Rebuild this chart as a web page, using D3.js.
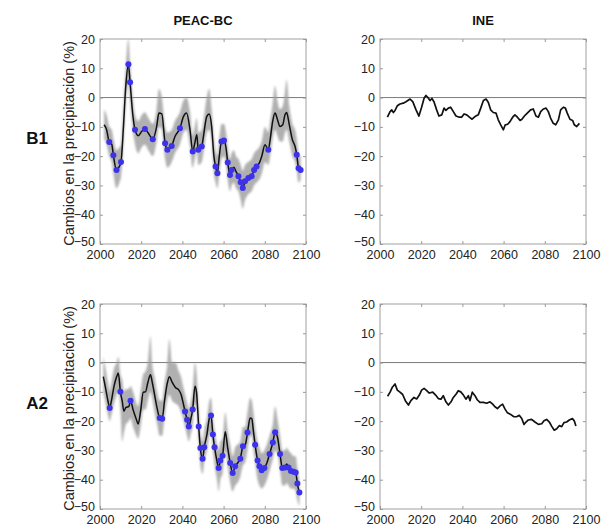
<!DOCTYPE html>
<html>
<head>
<meta charset="utf-8">
<script src="https://cdn.jsdelivr.net/npm/d3@7/dist/d3.min.js"></script>
<style>
  html, body { margin: 0; padding: 0; background: #fff; }
  svg { display: block; font-family: Arial, "Liberation Sans", Helvetica, sans-serif; }
</style>
</head>
<body>
<svg id="chart" width="603" height="529"></svg>
<script>
// Axis ranges and tick labels shared by all four panels
const xTicks = [2000, 2020, 2040, 2060, 2080, 2100];
const yTicks = [20, 10, 0, -10, -20, -30, -40, -50];
const columnTitles = ["PEAC-BC", "INE"];
const rowTitles = ["B1", "A2"];
const yAxisTitle = "Cambios en la precipitación (%)";

// B1 – PEAC-BC ensemble mean, its spread and significant years (1 = marked)
const b1PeacYears = [2002,2003.2,2004.5,2005.7,2006.5,2008,2009.4,2010.2,2011.3,2012.5,2013.8,2014.6,2015.9,2017,2018.6,2020.2,2021.8,2023.5,2025.6,2027.5,2028.6,2030,2031.6,2032.7,2034.8,2036.4,2038.8,2040.5,2042,2043.7,2045,2046,2047,2047.7,2049.4,2050.2,2051.8,2053,2054.2,2055.3,2056.1,2057,2057.9,2059,2060.2,2061.2,2062,2063.1,2063.9,2065,2066,2067.2,2068.3,2069.3,2070.4,2072,2073.6,2074.8,2076,2077.3,2078.5,2080.1,2081.7,2082.8,2083.8,2085,2086.1,2087.4,2088.7,2089.8,2090.6,2091.9,2093.4,2094.7,2095.5,2096.4,2097.4];
const b1PeacValues = [-9.3,-11,-15.2,-16,-19.7,-24.7,-23.5,-22,-11,3.8,11.4,5.2,-5.7,-11,-13,-11.6,-10.7,-12.2,-14.2,-9.9,-5.3,-5.6,-15.6,-17.8,-16.5,-13.3,-10.5,-6.5,-5.3,-11,-18.4,-15.6,-12.7,-17.8,-16.7,-13.3,-6.5,-5.6,-9.9,-20.1,-23.5,-25.8,-20.1,-15,-14.7,-17.3,-22.2,-26.4,-24.7,-23.8,-25.2,-26.9,-28.9,-30.9,-28.6,-27.5,-26.9,-24.7,-23.5,-22.4,-20.1,-16.1,-17.8,-13.3,-8.2,-5.3,-7.4,-9.9,-9.3,-5.9,-5.1,-9.3,-14.4,-16.7,-19.5,-24.1,-24.7];
const b1PeacLower = [-14,-16,-20,-22,-26,-31,-29,-27,-17,-2,5,-1,-11,-16,-19,-17,-16,-18,-20,-15,-10,-11,-21,-24,-22,-19,-16,-12,-11,-17,-24,-21,-18,-23,-22,-19,-12,-11,-15,-26,-29,-31,-26,-21,-20,-23,-28,-32,-30,-29,-31,-32,-35,-38,-35,-33,-32,-30,-29,-28,-26,-22,-23,-19,-14,-11,-13,-15,-15,-12,-11,-15,-20,-22,-25,-29,-28];
const b1PeacUpper = [-4,-6,-10,-11,-14,-18,-17,-16,-4,10,20,12,0,-6,-8,-6,-5,-7,-9,-4,3,0,-10,-12,-11,-8,-5,-1,0,-5,-13,-10,-7,-12,-11,-8,0,3,-4,-14,-18,-20,-14,-9,-9,-12,-17,-21,-19,-18,-20,-21,-23,-25,-23,-22,-21,-19,-18,-17,-15,-10,-12,-7,-2,4,-1,-4,-3,2,6,-3,-9,-11,-14,-19,-20];
const b1PeacSig = [0,0,1,0,1,1,0,1,0,0,1,1,0,1,0,0,1,0,1,0,0,0,1,1,1,0,1,0,0,0,1,0,0,1,1,0,0,0,0,0,1,1,0,1,1,0,1,1,1,0,0,1,1,1,1,1,1,1,1,0,0,0,1,0,0,0,0,0,0,0,0,0,0,0,1,1,1];

// B1 – INE series
const b1IneYears = [2003.6,2004.9,2005.7,2006.5,2007.3,2008.4,2009.7,2011.3,2012.6,2014.6,2015.9,2017.5,2018.9,2020.2,2021.4,2022.3,2023.5,2024.3,2025.2,2026.2,2027.5,2028.6,2030,2031.1,2032,2033.2,2034.3,2035.6,2036.9,2038.5,2039.6,2040.8,2042.1,2043.4,2044.7,2046.1,2047.7,2048.9,2050.2,2051.5,2052.6,2053.7,2055,2056.3,2057.4,2058.6,2059.9,2060.8,2062,2063.1,2064.4,2065.5,2066.7,2068,2068.9,2070.1,2071.5,2073.1,2074.4,2075.7,2076.9,2078,2079.3,2080.6,2081.7,2082.8,2084.1,2085.3,2086.6,2087.7,2089,2090,2090.9,2092.2,2093.5,2094.3,2095.5,2096.8];
const b1IneValues = [-6.7,-4.8,-4.2,-5.1,-4.4,-2.8,-2.2,-1.9,-1.4,-0.5,-1.4,-4.2,-6.3,-3.3,-0.2,0.7,-0.2,-1,-0.3,-1.4,-4.2,-6.3,-5.9,-3.6,-4.4,-3.6,-3.3,-4.8,-6.3,-6.7,-6.7,-5.6,-5.9,-6.7,-7.4,-6.5,-5.9,-3.6,-1,-0.5,-1.7,-4.2,-5.1,-5.3,-7.6,-9.3,-11,-9.3,-9.1,-8.2,-6.7,-5.9,-6.7,-7.8,-7.4,-6.3,-5.3,-4.2,-3.9,-6.3,-6.7,-4.8,-3.9,-3.6,-4.8,-7,-8.8,-9.3,-7.6,-4.2,-3.3,-3.6,-5.3,-7.4,-7.8,-9.3,-9.9,-8.8];

// A2 – PEAC-BC ensemble mean, its spread and significant years (1 = marked)
const a2PeacYears = [2001.6,2002.7,2003.9,2004.7,2005.5,2006.8,2008.1,2008.9,2009.9,2010.8,2011.6,2012.6,2014,2014.8,2016.1,2017.7,2018.5,2019.7,2021,2022.1,2023.2,2024.5,2025.3,2026.5,2027.7,2029,2030.2,2031.3,2032.6,2033.7,2035,2036.6,2038.2,2039.4,2040.3,2041.3,2042.3,2043.1,2044.2,2045,2046.1,2046.8,2047.9,2048.7,2049.8,2050.6,2051.9,2053.1,2053.9,2054.8,2055.6,2056.8,2057.6,2058.4,2059.5,2060.8,2061.9,2063.2,2064.4,2065.6,2066.8,2068.1,2069.4,2070.5,2071.6,2072.9,2073.7,2074.5,2075.3,2076.5,2077.4,2078.5,2079.8,2081,2082.3,2083.9,2085,2086.1,2087.4,2088.5,2089.8,2090.6,2091.5,2092.7,2093.9,2095,2095.8,2096.8];
const a2PeacValues = [-4.8,-8.7,-13.2,-15.5,-13.2,-8.1,-4.8,-3.6,-10,-13.2,-16.6,-15.3,-15,-13,-16.2,-19.5,-21,-16.6,-10.1,-10,-6.9,-4.2,-6.5,-11,-15.5,-18.9,-19.2,-13.2,-7.3,-4.8,-6.7,-8.5,-9.3,-11,-13.6,-16.7,-19.5,-21.8,-18.9,-16,-8.1,-9.8,-21.8,-29.2,-32.8,-28.9,-24.6,-18.9,-18.1,-24.6,-28.9,-33.7,-36,-33.4,-31.8,-23.6,-28.7,-34.3,-37.7,-35.4,-34.3,-32.8,-28.6,-28.1,-23.9,-18.9,-19.2,-23.6,-28.1,-33.4,-35.4,-36.8,-36,-34.3,-31.2,-27.3,-23.8,-25.3,-31.2,-36,-35.8,-34.6,-35.8,-37,-37.3,-37.5,-41.3,-44.4];
const a2PeacLower = [-10,-14,-18,-20,-18,-14,-11,-10,-16,-27,-24,-21,-20,-19,-22,-25,-26,-22,-16,-16,-13,-10,-12,-17,-21,-25,-25,-19,-13,-11,-13,-14,-15,-17,-19,-22,-25,-27,-24,-22,-14,-16,-27,-35,-38,-34,-30,-25,-24,-30,-35,-40,-44,-40,-38,-30,-35,-41,-44,-42,-41,-39,-35,-34,-30,-25,-25,-30,-34,-40,-42,-43,-42,-40,-37,-33,-30,-31,-37,-42,-42,-41,-42,-43,-43,-44,-47,-49];
const a2PeacUpper = [2,-2,-7,-10,-7,-2,0,2,-4,-6,-10,-9,-9,-8,-10,-14,-15,-10,-4,-3,0,9,0,-5,-10,-13,-13,-7,-1,8,0,0,-3,-5,-8,-11,-14,-16,-13,-10,0,-3,-16,-23,-27,-23,-19,-13,-12,-19,-23,-28,-30,-27,-26,-17,-23,-28,-32,-29,-28,-27,-22,-22,-17,-12,-13,-17,-22,-27,-29,-31,-30,-28,-25,-21,-15,-19,-25,-30,-30,-29,-30,-31,-32,-32,-36,-40];
const a2PeacSig = [0,0,0,1,0,0,0,0,1,0,0,0,0,1,0,0,0,0,0,0,0,0,0,0,0,1,1,0,0,0,0,0,0,0,0,1,1,1,0,1,0,0,1,1,1,1,0,0,1,1,1,0,1,1,1,0,0,1,1,1,0,1,1,0,1,0,0,0,1,1,1,1,1,0,1,1,1,0,1,1,1,0,1,1,1,1,1,1];

// A2 – INE series
const a2IneYears = [2003.7,2004.9,2006,2007.3,2008.4,2009.7,2011,2012.3,2013.8,2015,2016.5,2017.8,2019.1,2020.2,2021.4,2022.7,2023.9,2025.6,2027,2028.3,2029.6,2030.7,2032,2033.2,2034.5,2035.6,2036.9,2038,2039.2,2040.5,2041.7,2042.9,2043.7,2044.8,2046.1,2047.2,2048.5,2050.2,2051.8,2053.4,2054.7,2055.8,2057,2058.3,2059.5,2060.7,2061.8,2063.4,2065,2066.3,2067.6,2068.8,2069.9,2070.9,2072,2073.6,2075.2,2076.9,2078.5,2079.6,2080.9,2082.2,2083.3,2084.6,2085.8,2087.1,2088.2,2089.3,2090.6,2091.9,2093.4,2094.3,2095.1];
const a2IneValues = [-11.5,-10.1,-8.4,-7.3,-9.4,-10.1,-10.9,-13,-14.5,-13,-11.9,-12.4,-11.1,-9.4,-8.8,-9.6,-10.4,-10.1,-11.1,-12.3,-12.5,-11.3,-13.4,-14.5,-13.4,-11.9,-10.8,-9.6,-10,-11.1,-12.5,-11.3,-13,-10.1,-11.3,-12.7,-13.6,-13.6,-13.9,-13.4,-14.2,-15.1,-15.7,-14.8,-14.2,-15.9,-17.1,-17.7,-18.5,-18.5,-18,-19.1,-21.1,-20.3,-19.6,-19.4,-20.3,-21.1,-20.9,-19.9,-19.4,-20.3,-21.7,-23.1,-22.6,-21.5,-21.9,-20.5,-20.3,-19.6,-19.1,-19.9,-21.7];

const svg = d3.select("#chart");

const defs = svg.append("defs");
defs.append("filter").attr("id", "soft")
  .attr("x", "-10%").attr("y", "-10%").attr("width", "120%").attr("height", "120%")
  .append("feGaussianBlur").attr("stdDeviation", 1.3);
defs.append("filter").attr("id", "softDot")
  .append("feGaussianBlur").attr("stdDeviation", 0.5);

// Panel frames: [row][column]
const frames = [
  [{ x: 100, y: 39, w: 206, h: 205 }, { x: 380, y: 39, w: 206, h: 205 }],
  [{ x: 100, y: 304, w: 206, h: 205 }, { x: 380, y: 304, w: 206, h: 205 }]
];

const panels = [
  { row: 0, col: 0, kind: "peac", years: b1PeacYears, values: b1PeacValues, lower: b1PeacLower, upper: b1PeacUpper, sig: b1PeacSig },
  { row: 0, col: 1, kind: "ine", years: b1IneYears, values: b1IneValues },
  { row: 1, col: 0, kind: "peac", years: a2PeacYears, values: a2PeacValues, lower: a2PeacLower, upper: a2PeacUpper, sig: a2PeacSig },
  { row: 1, col: 1, kind: "ine", years: a2IneYears, values: a2IneValues }
];

panels.forEach((p, i) => {
  const f = frames[p.row][p.col];
  const g = svg.append("g").attr("transform", `translate(${f.x},${f.y})`);
  const x = d3.scaleLinear().domain([2000, 2100]).range([0, f.w]);
  const y = d3.scaleLinear().domain([-50, 20]).range([f.h, 0]);

  const clipId = "clip" + i;
  defs.append("clipPath").attr("id", clipId)
    .append("rect").attr("width", f.w).attr("height", f.h);
  const plot = g.append("g").attr("clip-path", `url(#${clipId})`);

  // zero reference line
  plot.append("line")
    .attr("x1", 0).attr("x2", f.w)
    .attr("y1", y(0)).attr("y2", y(0))
    .attr("stroke", "#7a7a7a").attr("stroke-width", 1);

  const pts = p.years.map((yr, k) => ({ yr, v: p.values[k], k }));

  if (p.kind === "peac") {
    const area = d3.area()
      .x(d => x(d.yr))
      .y0(d => y(p.lower[d.k]))
      .y1(d => y(p.upper[d.k]))
      .curve(d3.curveMonotoneX);
    plot.append("path").datum(pts)
      .attr("d", area)
      .attr("fill", "#9a9a9a")
      .attr("fill-opacity", 0.78)
      .attr("filter", "url(#soft)");

    plot.append("path").datum(pts)
      .attr("d", d3.line().x(d => x(d.yr)).y(d => y(d.v)).curve(d3.curveMonotoneX))
      .attr("fill", "none").attr("stroke", "#111").attr("stroke-width", 1.5);

    plot.selectAll("circle.sig").data(pts.filter(d => p.sig[d.k] === 1))
      .join("circle").attr("class", "sig")
      .attr("cx", d => x(d.yr)).attr("cy", d => y(d.v))
      .attr("r", 3)
      .attr("fill", "#3c32ec")
      .attr("filter", "url(#softDot)");
  } else {
    plot.append("path").datum(pts)
      .attr("d", d3.line().x(d => x(d.yr)).y(d => y(d.v)))
      .attr("fill", "none").attr("stroke", "#111").attr("stroke-width", 1.7)
      .attr("stroke-linejoin", "round");
  }

  // frame
  g.append("rect").attr("width", f.w).attr("height", f.h)
    .attr("fill", "none").attr("stroke", "#a0a0a0").attr("stroke-width", 1);

  // inward ticks on all four sides, labels on bottom and left
  const axB = g.append("g").attr("transform", `translate(0,${f.h})`)
    .call(d3.axisBottom(x).tickValues(xTicks).tickSize(-3).tickPadding(7).tickFormat(d3.format("d")));
  const axT = g.append("g")
    .call(d3.axisTop(x).tickValues(xTicks).tickSize(-3).tickFormat(""));
  const axL = g.append("g")
    .call(d3.axisLeft(y).tickValues(yTicks).tickSize(-3).tickPadding(5).tickFormat(d3.format("d")));
  const axR = g.append("g").attr("transform", `translate(${f.w},0)`)
    .call(d3.axisRight(y).tickValues(yTicks).tickSize(-3).tickFormat(""));

  [axB, axT, axL, axR].forEach(ax => {
    ax.select(".domain").remove();
    ax.selectAll(".tick line").attr("stroke", "#9a9a9a");
    ax.selectAll("text").attr("fill", "#222").style("font-size", "12.5px")
      .style("font-family", "Arial, 'Liberation Sans', Helvetica, sans-serif");
  });
  axB.selectAll("text").attr("dy", "0.62em");
  // lowest y label sits slightly raised so it clears the year labels
  axL.selectAll(".tick").filter(d => d === -50).select("text").attr("dy", "0.1em");
});

// column titles
columnTitles.forEach((t, c) => {
  const f = frames[0][c];
  svg.append("text")
    .attr("x", f.x + f.w / 2).attr("y", 25)
    .attr("text-anchor", "middle")
    .style("font-size", "13px").style("font-weight", "bold")
    .attr("fill", "#111")
    .text(t);
});

// row titles and y-axis titles
rowTitles.forEach((t, r) => {
  const f = frames[r][0];
  svg.append("text")
    .attr("x", 37).attr("y", f.y + f.h / 2 - 3)
    .attr("text-anchor", "middle").attr("dominant-baseline", "central")
    .style("font-size", "17px").style("font-weight", "bold")
    .attr("fill", "#111")
    .text(t);
  svg.append("text")
    .attr("transform", `translate(74,${f.y + f.h / 2 + 2}) rotate(-90)`)
    .attr("text-anchor", "middle")
    .style("font-size", "14.5px")
    .attr("fill", "#222")
    .text(yAxisTitle);
});
</script>
</body>
</html>
